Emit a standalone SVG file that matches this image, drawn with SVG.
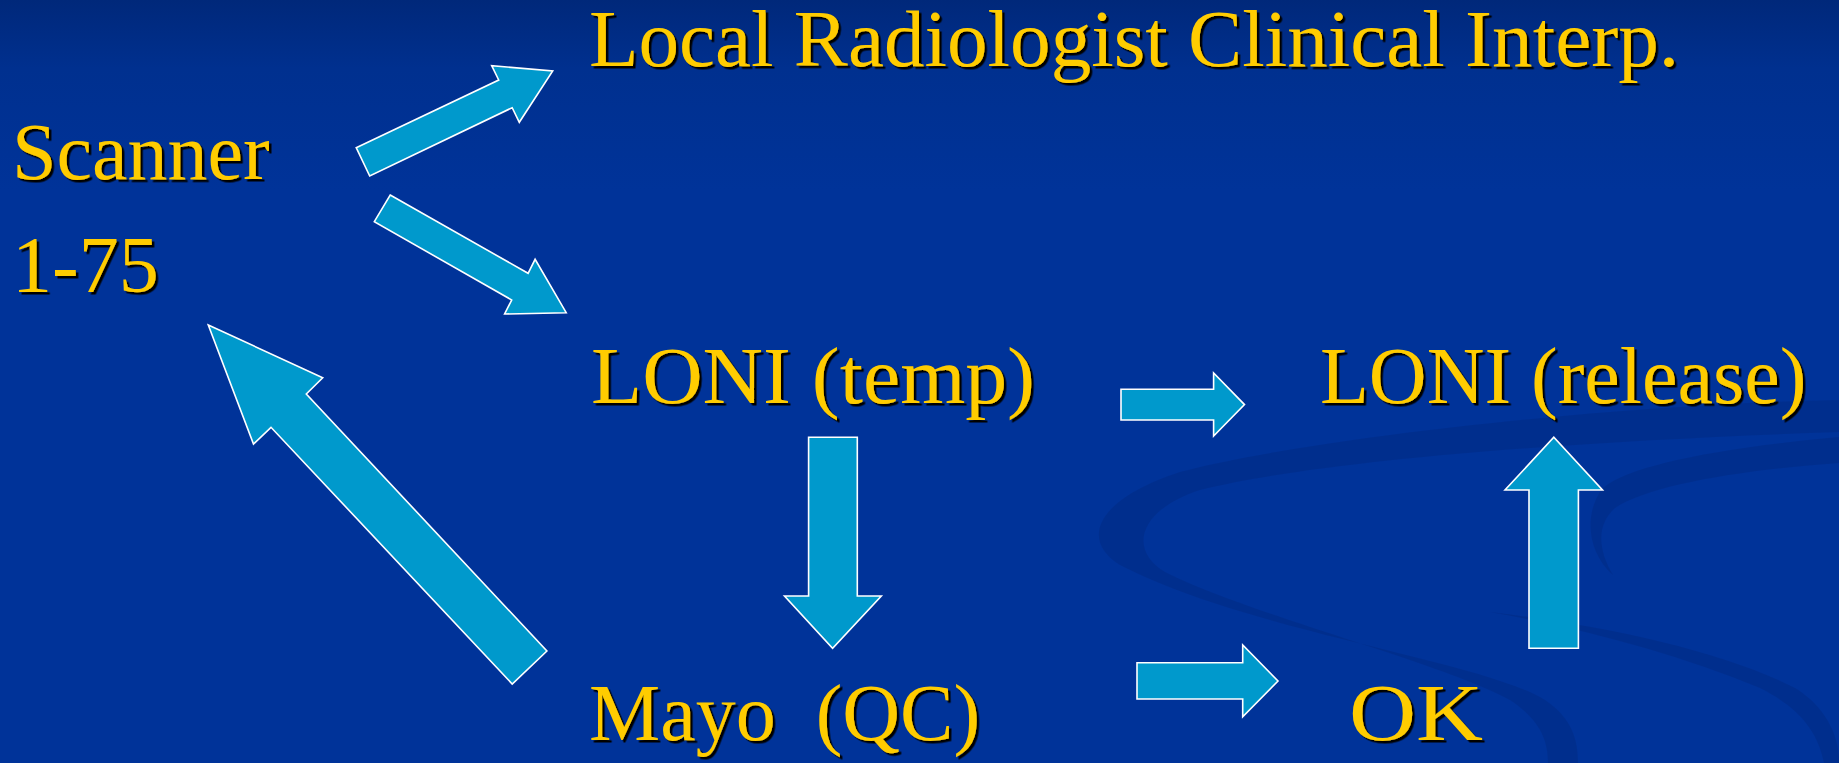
<svg xmlns="http://www.w3.org/2000/svg" width="1839" height="763" viewBox="0 0 1839 763">
  <defs>
    <linearGradient id="bg" x1="0" y1="0" x2="0" y2="1">
      <stop offset="0" stop-color="#00287a"/>
      <stop offset="0.09" stop-color="#00308f"/>
      <stop offset="0.25" stop-color="#003399"/>
      <stop offset="1" stop-color="#003399"/>
    </linearGradient>
    <filter id="shadow" x="-5%" y="-20%" width="110%" height="140%">
      <feDropShadow dx="2.5" dy="2.5" stdDeviation="0" flood-color="#000000" flood-opacity="1"/>
    </filter>
    <style>
      .lbl { font-family: "Liberation Serif", "Times New Roman", serif; font-size: 80px; fill: #FFCC00; filter: url(#shadow); }
      .arrow { fill: #0099CC; stroke: #FFFFFF; stroke-width: 1.6; stroke-linejoin: miter; }
      .swoosh { fill: #002d8a; opacity: 0.75; }
    </style>
  </defs>

  <!-- background -->
  <rect x="0" y="0" width="1839" height="763" fill="url(#bg)"/>
  <g id="background-swoosh">
    <path class="swoosh" d="M 1839,400 C 1600,405 1300,440 1180,472 C 1095,500 1080,540 1120,565 C 1250,632 1480,660 1545,700 C 1572,718 1578,740 1578,763 L 1548,763 C 1548,740 1540,720 1510,700 C 1440,662 1250,615 1165,572 C 1128,550 1138,510 1200,490 C 1330,458 1600,440 1839,432 Z"/>
    <path class="swoosh" d="M 1839,437 C 1720,448 1630,465 1603,488 C 1585,510 1585,550 1613,575 C 1598,550 1596,525 1615,508 C 1650,485 1740,470 1839,463 Z"/>
    <path class="swoosh" d="M 1490,612 C 1600,625 1720,650 1795,688 C 1828,708 1840,740 1839,763 L 1824,763 C 1818,732 1800,708 1760,688 C 1680,655 1590,630 1490,612 Z"/>
  </g>

  <!-- nodes -->
  <g id="node-scanner">
    <text class="lbl" x="12" y="179">Scanner</text>
    <text class="lbl" x="12" y="292">1-75</text>
  </g>
  <g id="node-local">
    <text class="lbl" x="589" y="65.5" textLength="1090" lengthAdjust="spacingAndGlyphs">Local Radiologist Clinical Interp.</text>
  </g>
  <g id="node-loni-temp">
    <text class="lbl" x="591" y="403" textLength="444" lengthAdjust="spacingAndGlyphs">LONI (temp)</text>
  </g>
  <g id="node-loni-release">
    <text class="lbl" x="1320" y="403">LONI (release)</text>
  </g>
  <g id="node-mayo">
    <text class="lbl" x="589" y="740" xml:space="preserve">Mayo  (QC)</text>
  </g>
  <g id="node-ok">
    <text class="lbl" x="1349" y="740" textLength="134" lengthAdjust="spacingAndGlyphs">OK</text>
  </g>

  <!-- connectors (block arrows) -->
  <g id="connectors">
    <polygon id="arrow-scanner-local" class="arrow" points="356.2,147.7 498.7,80 491.7,65.7 552.7,71 519.3,122.3 512.2,107.7 369.7,176"/>
    <polygon id="arrow-scanner-loni" class="arrow" points="390.2,195 528.1,273.3 535.1,259.3 566.2,312.7 504.6,314 511.7,300 374.3,221.7"/>
    <polygon id="arrow-mayo-scanner" class="arrow" points="208.3,325 322.7,377.7 306.3,394 546.9,651 512.2,684 271,427.3 253.5,444"/>
    <polygon id="arrow-loni-mayo" class="arrow" points="808.6,437.3 857.3,437.3 857.3,596 881.3,596 832.6,648.3 784.5,596 808.6,596"/>
    <polygon id="arrow-loni-release" class="arrow" points="1121,389.3 1213.6,389.3 1213.6,373 1244.5,404.6 1213.6,436 1213.6,420 1121,420"/>
    <polygon id="arrow-mayo-ok" class="arrow" points="1137,662.7 1242.7,662.7 1242.7,645 1278,681 1242.7,716.7 1242.7,699 1137,699"/>
    <polygon id="arrow-ok-release" class="arrow" points="1529,648.3 1578.4,648.3 1578.4,490 1602.5,490 1553.8,437.3 1505,490 1529,490"/>
  </g>
</svg>
